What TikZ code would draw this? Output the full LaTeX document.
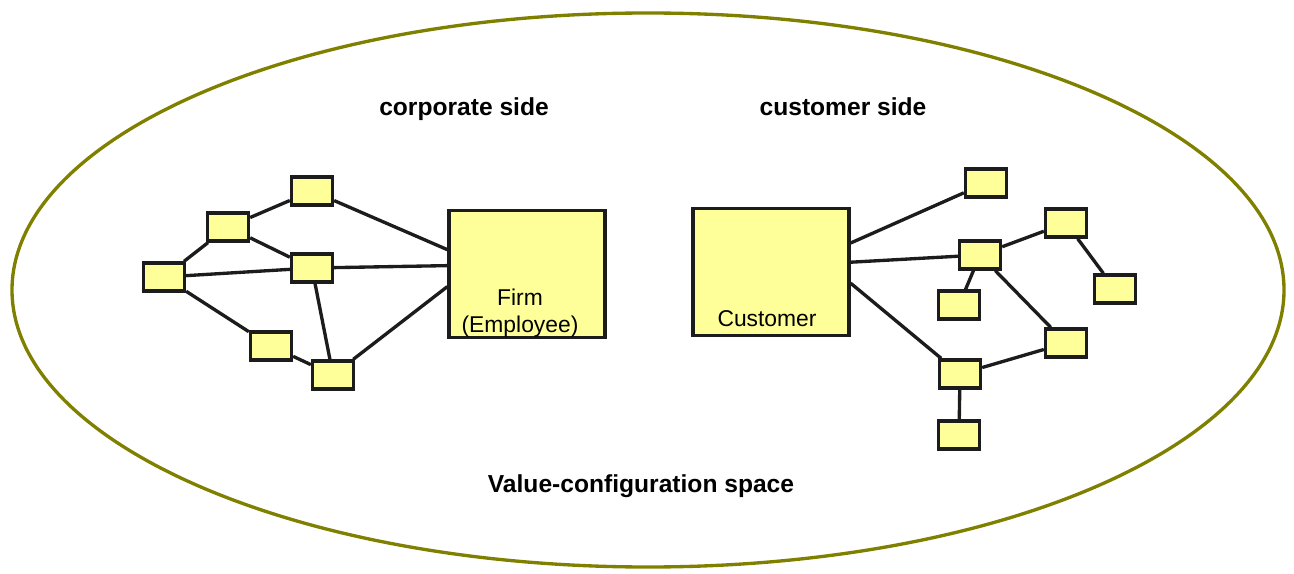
\documentclass[tikz,border=0pt]{standalone}
\usepackage{fontspec}
\setmainfont{Liberation Sans}
\usepackage{tikz}
\usetikzlibrary{positioning,calc}
\definecolor{boxyellow}{RGB}{255,255,153}
\definecolor{rimolive}{RGB}{128,128,0}
\definecolor{inkgray}{RGB}{28,28,28}
\tikzset{
  unit/.style={rectangle, draw=inkgray, line width=1.9pt, fill=boxyellow, minimum width=0.82cm, minimum height=0.56cm, inner sep=0pt},
  actor/.style={rectangle, draw=inkgray, line width=1.9pt, fill=boxyellow, minimum width=3.12cm, minimum height=2.54cm, inner sep=0pt},
  link/.style={draw=inkgray, line width=1.9pt},
  side/.style={font=\fontsize{14}{16}\selectfont\bfseries},
  boxtext/.style={font=\fontsize{13}{15}\selectfont, align=center, inner sep=0pt},
}

\begin{document}
\begin{tikzpicture}[x=0.02cm, y=-0.02cm]
  \useasboundingbox (0,0) rectangle (1294,574);

  % value-configuration space
  \draw[rimolive, line width=1.9pt] (648,290) ellipse [x radius=636, y radius=277];

  \node[side] (corp) at (464,109) {corporate side};
  \node[side] (cust) at (843,107) {customer side};
  \node[side] (space) at (641,486) {Value-configuration space};

  % firm and customer
  \node[actor] (firm) at (527,274) {};
  \node[boxtext] (firmtxt) at (520,313) {Firm\\(Employee)};
  \node[actor] (customer) at (771,272) {};
  \node[boxtext] (custtxt) at (767,319) {Customer};

  % corporate side network
  \node[unit] (c1) at (312,191) {};
  \node[unit] (c2) at (228,227) {};
  \node[unit] (c3) at (164,277) {};
  \node[unit] (c4) at (312,268) {};
  \node[unit] (c5) at (271,346) {};
  \node[unit] (c6) at (333,375) {};

  \draw[link] (c1) -- (c2);
  \draw[link] (c2) -- (c3);
  \draw[link] (c2) -- (c4);
  \draw[link] (c3) -- (c4);
  \draw[link] (c3) -- (c5);
  \draw[link] (c5) -- (c6);
  \draw[link] (c4) -- (c6);
  \draw[link] (c1) -- (firm.163);
  \draw[link] (c4) -- (firm.174);
  \draw[link] (c6) -- (firm.189);

  % customer side network
  \node[unit] (k1) at (986,183) {};
  \node[unit] (k2) at (980,255) {};
  \node[unit] (k3) at (959,305) {};
  \node[unit] (k4) at (1066,223) {};
  \node[unit] (k5) at (1115,289) {};
  \node[unit] (k6) at (1066,343) {};
  \node[unit] (k7) at (960,374) {};
  \node[unit] (k8) at (959,435) {};

  \draw[link] (customer.20) -- (k1);
  \draw[link] (customer.7) -- (k2);
  \draw[link] (customer.-8) -- (k7);
  \draw[link] (k2) -- (k3);
  \draw[link] (k2) -- (k4);
  \draw[link] (k4) -- (k5);
  \draw[link] (k2) -- (k6);
  \draw[link] (k6) -- (k7);
  \draw[link] (k7) -- (k8);
\end{tikzpicture}
\end{document}
